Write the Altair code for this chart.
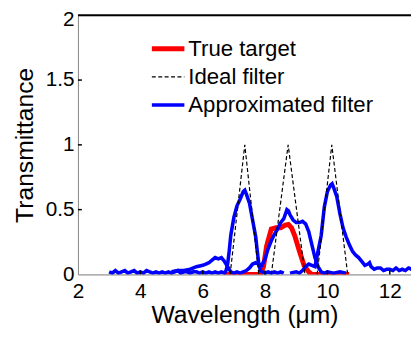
import altair as alt
import pandas as pd

# ---------------- data ----------------
legend_labels = ["True target", "Ideal filter", "Approximated filter"]
x_ticks = [2, 4, 6, 8, 10, 12]
y_ticks = [0, 0.5, 1, 1.5, 2]

true_x = [6.7, 7.85, 7.95, 8.05, 8.2, 8.35, 8.5, 8.65, 8.75, 8.85, 8.95, 9.1, 9.25, 9.4, 9.5, 10.7]
true_y = [0, 0, 0.06, 0.22, 0.35, 0.36, 0.36, 0.38, 0.385, 0.36, 0.30, 0.18, 0.07, 0.02, 0, 0]

ideal1_x = [6.88, 7.35, 7.8]
ideal2_x = [8.2, 8.74, 9.28]
ideal3_x = [9.67, 10.14, 10.65]
ideal_y = [0, 1, 0]

appr1_x = [3.0, 3.1, 3.2, 3.3, 3.4, 3.5, 3.6, 3.7, 3.8, 3.9,
           4.0, 4.1, 4.2, 4.3, 4.4, 4.5, 4.6, 4.7, 4.8, 4.9,
           5.0, 5.1, 5.2, 5.3, 5.4, 5.5, 5.6, 5.7, 5.8, 5.9,
           6.0, 6.1, 6.2, 6.3, 6.4, 6.5, 6.6, 6.7, 6.75, 6.8,
           6.85, 6.9, 7.0, 7.1, 7.2, 7.3, 7.35, 7.4, 7.5, 7.6,
           7.7, 7.75, 7.8, 7.85, 7.9, 8.0, 8.1, 8.2, 8.3, 8.4,
           8.5, 8.6]
appr1_y = [0.02, 0.01, 0.03, 0.01, 0.02, 0.03, 0.01, 0.02, 0.03, 0.01,
           0.02, 0.01, 0.03, 0.02, 0.01, 0.02, 0.01, 0.02, 0.01, 0.02,
           0.01, 0.02, 0.03, 0.01, 0.02, 0.02, 0.01, 0.02, 0.02, 0.01,
           0.02, 0.01, 0.02, 0.01, 0.02, 0.01, 0.02, 0.01, 0.03, 0.08,
           0.18, 0.30, 0.44, 0.53, 0.58, 0.64, 0.65, 0.62, 0.55, 0.42,
           0.29, 0.18, 0.08, 0.03, 0.02, 0.01, 0.02, 0.01, 0.02, 0.01,
           0.02, 0.01]

appr2_x = [5.0, 5.2, 5.4, 5.6, 5.8, 6.0, 6.1, 6.2, 6.3, 6.4,
           6.5, 6.6, 6.7, 6.8, 6.9, 7.0, 7.1, 7.2, 7.3, 7.4,
           7.5, 7.6, 7.7, 7.8, 7.9, 8.0, 8.1, 8.2, 8.3, 8.4,
           8.5, 8.6, 8.7, 8.75, 8.8, 8.9, 9.0, 9.1, 9.2, 9.3,
           9.4, 9.5, 9.6, 9.7, 9.8, 9.9, 10.0, 10.2, 10.4, 10.6]
appr2_y = [0.02, 0.03, 0.03, 0.04, 0.06, 0.07, 0.08, 0.09, 0.11, 0.13,
           0.12, 0.13, 0.10, 0.06, 0.02, 0.01, 0.02, 0.01, 0.02, 0.03,
           0.05, 0.08, 0.09, 0.08, 0.07, 0.12, 0.20, 0.26, 0.31, 0.35,
           0.40, 0.43, 0.50, 0.49, 0.46, 0.42, 0.40, 0.40, 0.41, 0.39,
           0.33, 0.23, 0.13, 0.06, 0.02, 0.01, 0.02, 0.01, 0.02, 0.01]

appr3_x = [8.8, 9.0, 9.1, 9.2, 9.3, 9.4, 9.5, 9.6, 9.65, 9.7,
           9.8, 9.9, 10.0, 10.1, 10.15, 10.2, 10.3, 10.4, 10.5, 10.6,
           10.7, 10.8, 10.9, 11.0, 11.1, 11.2, 11.3, 11.35, 11.4, 11.5,
           11.6, 11.7, 11.8, 11.9, 12.0, 12.1, 12.2, 12.3, 12.4, 12.5,
           12.6, 12.7]
appr3_y = [0.01, 0.02, 0.01, 0.03, 0.06, 0.08, 0.07, 0.06, 0.12, 0.18,
           0.30, 0.52, 0.64, 0.69, 0.70, 0.67, 0.60, 0.47, 0.36, 0.29,
           0.23, 0.18, 0.15, 0.13, 0.10, 0.07, 0.08, 0.09, 0.06, 0.04,
           0.05, 0.05, 0.03, 0.04, 0.04, 0.03, 0.05, 0.03, 0.04, 0.03,
           0.05, 0.04]


def frame(xs, ys, curve):
    return pd.DataFrame({"x": xs, "y": ys, "curve": curve})


true_df = frame(true_x, true_y, "target")
ideal_df = pd.concat([frame(ideal1_x, ideal_y, "f1"),
                      frame(ideal2_x, ideal_y, "f2"),
                      frame(ideal3_x, ideal_y, "f3")])
appr_df = pd.concat([frame(appr1_x, appr1_y, "a1"),
                     frame(appr2_x, appr2_y, "a2"),
                     frame(appr3_x, appr3_y, "a3")])

# ---------------- layout ----------------
TOP = 5
W, H = 338, 263
FONT = "Liberation Sans"

x_scale = alt.Scale(domain=[2, 12.68], nice=False, zero=False)
y_scale = alt.Scale(domain=[0, 2], nice=False)
x_axis = alt.Axis(values=x_ticks, title="Wavelength (μm)", grid=False, tickSize=0,
                  labelPadding=6, labelFontSize=21, titleFontSize=25, labelFlush=False,
                  titleFontWeight="normal", titleY=41, titleBaseline="middle",
                  format="d")
y_axis = alt.Axis(values=y_ticks, title="Transmittance", grid=False, tickSize=0,
                  labelPadding=4, labelFontSize=21, titleFontSize=25,
                  titleFontWeight="normal", format="~g",
                  labelOffset={"expr": "datum.value == 2 ? 4 : 0"},
                  titleX=-54, titleY=H / 2, titleBaseline="middle", titleAlign="center")

X = alt.X("x:Q", scale=x_scale, axis=x_axis)
Y = alt.Y("y:Q", scale=y_scale, axis=y_axis)

red = alt.Chart(true_df).mark_line(color="#ff0000", strokeWidth=5, clip=True).encode(
    x=X, y=Y, detail="curve:N")
blue = alt.Chart(appr_df).mark_line(color="#0000ff", strokeWidth=3.6, clip=True).encode(
    x=X, y=Y, detail="curve:N")
black = alt.Chart(ideal_df).mark_line(color="black", strokeWidth=1.2,
                                      strokeDash=[4, 2.5], clip=True).encode(
    x=X, y=Y, detail="curve:N")

# inward tick marks
ytick_df = pd.DataFrame({"y": y_ticks[1:-1]})
xtick_df = pd.DataFrame({"x": x_ticks[1:]})
ytick = alt.Chart(ytick_df).mark_rule(color="black", strokeWidth=1.5).encode(
    y=Y, x=alt.value(0), x2=alt.value(4))
xtick = alt.Chart(xtick_df).mark_rule(color="black", strokeWidth=1.5).encode(
    x=X, y=alt.value(H), y2=alt.value(H - 4))

one = pd.DataFrame({"k": [0]})
top_line = alt.Chart(one).mark_rule(color="black", strokeWidth=2).encode(
    x=alt.value(0), x2=alt.value(W), y=alt.value(0))

# manual legend
off = 11 - (8 + TOP)
rows_y = [36 + off, 64.5 + off, 93 + off]
leg = []
leg.append(alt.Chart(one).mark_rule(color="#ff0000", strokeWidth=5).encode(
    x=alt.value(75), x2=alt.value(108), y=alt.value(rows_y[0])))
leg.append(alt.Chart(one).mark_rule(color="black", strokeWidth=1.2, strokeDash=[4, 2.5]).encode(
    x=alt.value(75), x2=alt.value(108), y=alt.value(rows_y[1])))
leg.append(alt.Chart(one).mark_rule(color="#0000ff", strokeWidth=3.6).encode(
    x=alt.value(75), x2=alt.value(108), y=alt.value(rows_y[2])))
for lab, yy in zip(legend_labels, rows_y):
    leg.append(alt.Chart(one).mark_text(text=lab, align="left", baseline="middle",
                                        fontSize=22.5, font=FONT, color="black").encode(
        x=alt.value(112), y=alt.value(yy)))

chart = alt.layer(red, blue, black, ytick, xtick, top_line, *leg).properties(
    width=W, height=H,
    autosize=alt.AutoSizeParams(type="none"),
    padding={"left": 71, "top": TOP, "right": 0, "bottom": 53},
).configure_view(stroke=None).configure_axis(
    labelFont=FONT, titleFont=FONT, labelColor="black", titleColor="black",
    domainColor="black", domainWidth=2,
).configure(background="white")

chart.save("out.html", embed_options={"renderer": "svg", "actions": False})
